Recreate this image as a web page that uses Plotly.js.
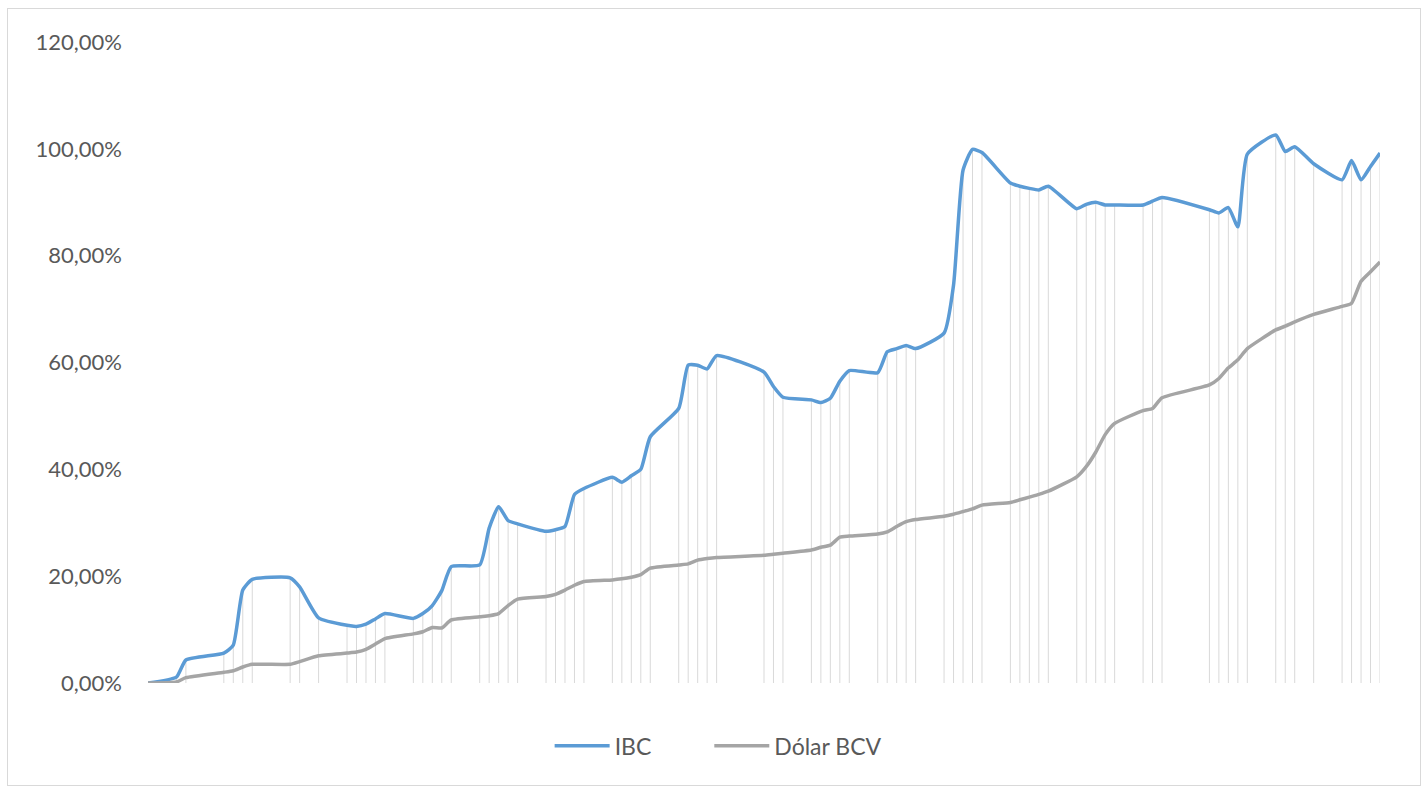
<!DOCTYPE html>
<html>
<head>
<meta charset="utf-8">
<script src="https://cdn.plot.ly/plotly-3.0.1.min.js"></script>
<style>
  html, body { margin: 0; padding: 0; background: #ffffff; }
  #wrap { position: relative; width: 1428px; height: 792px; }
  #chart { width: 1428px; height: 792px; }
  #frame { position: absolute; left: 7px; top: 8px; width: 1412px; height: 776px;
           border: 1px solid #d9d9d9; pointer-events: none; }
</style>
</head>
<body>
<div id="wrap">
  <div id="chart"></div>
  <div id="frame"></div>
</div>
<script>
// Trading dates
const fechas = [
  '2022-12-19','2022-12-22','2022-12-23','2022-12-27','2022-12-28','2022-12-29','2022-12-30',
  '2023-01-03','2023-01-04','2023-01-06',
  '2023-01-09','2023-01-10','2023-01-11','2023-01-12','2023-01-13',
  '2023-01-16','2023-01-17','2023-01-18','2023-01-19','2023-01-20',
  '2023-01-23','2023-01-24','2023-01-25','2023-01-26','2023-01-27',
  '2023-01-30','2023-01-31','2023-02-01','2023-02-02','2023-02-03',
  '2023-02-06','2023-02-07','2023-02-08','2023-02-09','2023-02-10',
  '2023-02-13','2023-02-14','2023-02-15','2023-02-16','2023-02-17',
  '2023-02-22','2023-02-23','2023-02-24',
  '2023-02-27','2023-02-28','2023-03-01','2023-03-02','2023-03-03',
  '2023-03-06','2023-03-07','2023-03-08','2023-03-09','2023-03-10',
  '2023-03-13','2023-03-14','2023-03-15','2023-03-16','2023-03-17',
  '2023-03-20','2023-03-21','2023-03-22','2023-03-23','2023-03-24',
  '2023-03-27','2023-03-28','2023-03-29','2023-03-30','2023-03-31',
  '2023-04-03','2023-04-04','2023-04-05',
  '2023-04-10','2023-04-11','2023-04-12','2023-04-13','2023-04-14',
  '2023-04-17','2023-04-18','2023-04-19','2023-04-21',
  '2023-04-24','2023-04-25','2023-04-26','2023-04-27','2023-04-28'
];

// IBC cumulative variation (%)
const ibc = [
  0, 1.1, 4.3, 5.6, 7.1, 17.4, 19.4,
  19.7, 18.0, 12.2,
  10.8, 10.6, 11.0, 12.0, 13.0,
  12.1, 13.0, 14.5, 17.3, 21.8,
  22.1, 29.0, 33.0, 30.4, 29.8,
  28.4, 28.7, 29.3, 35.3, 36.4,
  38.5, 37.6, 38.8, 40.0, 46.1,
  51.4, 59.5, 59.5, 58.8, 61.3,
  58.2, 55.5, 53.5,
  53.0, 52.5, 53.3, 56.5, 58.5,
  58.1, 62.0, 62.6, 63.2, 62.6,
  65.5, 74.5, 96.0, 99.9, 99.3,
  93.6, 93.0, 92.6, 92.3, 93.0,
  88.8, 89.6, 90.0, 89.5, 89.5,
  89.5, 90.2, 90.9,
  88.6, 88.0, 89.0, 85.4, 99.0,
  102.6, 99.5, 100.4, 97.2,
  94.2, 97.8, 94.2, 96.7, 99.2
];

// Dólar BCV cumulative variation (%)
const dolar = [
  0, 0.2, 1.0, 2.0, 2.3, 3.0, 3.5,
  3.5, 4.0, 5.1,
  5.6, 5.8, 6.3, 7.3, 8.3,
  9.2, 9.6, 10.4, 10.3, 11.8,
  12.4, 12.6, 13.0, 14.5, 15.7,
  16.2, 16.6, 17.4, 18.3, 19.0,
  19.3, 19.5, 19.8, 20.3, 21.5,
  22.1, 22.3, 23.0, 23.3, 23.5,
  23.9, 24.1, 24.3,
  24.9, 25.4, 25.8, 27.3, 27.5,
  27.9, 28.3, 29.3, 30.2, 30.6,
  31.2, 31.6, 32.1, 32.6, 33.3,
  33.8, 34.3, 34.8, 35.3, 35.9,
  38.6, 40.5, 43.2, 46.5, 48.6,
  51.0, 51.4, 53.4,
  55.8, 57.0, 59.0, 60.5, 62.6,
  66.1, 66.8, 67.6, 69.0,
  70.5, 71.1, 75.2, 77.0, 78.8
];

const seriesNames = ['IBC', 'Dólar BCV'];
const yTicks = [0, 20, 40, 60, 80, 100, 120];
const yTickText = yTicks.map(v => v.toFixed(2).replace('.', ',') + '%');

// drop lines from each point of the highest series to the axis
const dropX = [], dropY = [];
fechas.forEach((f, i) => {
  dropX.push(f, f, null);
  dropY.push(0, Math.max(ibc[i], dolar[i]), null);
});

const FONT = 'Lato, "Open Sans", sans-serif';
const PAD = '\u00a0'.repeat(9);

const traces = [
  {
    x: dropX, y: dropY, type: 'scatter', mode: 'lines',
    line: { color: '#d9d9d9', width: 1 },
    showlegend: false, hoverinfo: 'skip'
  },
  {
    x: fechas, y: ibc, type: 'scatter', mode: 'lines', name: seriesNames[0] + PAD,
    line: { color: '#5b9bd5', width: 3.5, shape: 'spline', smoothing: 0.5 }
  },
  {
    x: fechas, y: dolar, type: 'scatter', mode: 'lines', name: seriesNames[1],
    line: { color: '#a5a5a5', width: 3.5, shape: 'spline', smoothing: 0.5 }
  }
];

const layout = {
  width: 1428, height: 792,
  margin: { l: 148, r: 48, t: 42, b: 109 },
  paper_bgcolor: '#ffffff', plot_bgcolor: '#ffffff',
  font: { family: FONT, size: 20, color: '#595959' },
  xaxis: {
    type: 'date',
    range: [fechas[0], fechas[fechas.length - 1]],
    showticklabels: false, showgrid: false, zeroline: false, showline: false, ticks: ''
  },
  yaxis: {
    range: [0, 120],
    tickmode: 'array', tickvals: yTicks, ticktext: yTickText,
    showgrid: false, zeroline: false, showline: false, ticks: '',
    ticklabelstandoff: 25,
    tickfont: { family: FONT, size: 22, color: '#595959' }
  },
  showlegend: true,
  legend: {
    orientation: 'h', x: 0.326, xanchor: 'left', y: -0.098, yanchor: 'middle',
    font: { family: FONT, size: 23, color: '#595959' },
    itemwidth: 55
  }
};

Plotly.newPlot('chart', traces, layout, { displayModeBar: false, staticPlot: true });
</script>
</body>
</html>
